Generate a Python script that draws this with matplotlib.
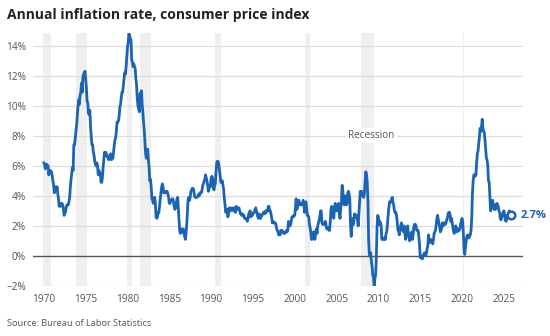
import matplotlib.pyplot as plt
import numpy as np

# CPI-U, 12-month percent change, monthly from Jan 1970
cpi_1970s = [6.2, 6.1, 5.8, 6.1, 6.1, 6.0, 6.0, 5.4, 5.6, 5.7, 5.6, 5.6,
             5.3, 5.0, 4.7, 4.2, 4.4, 4.6, 4.4, 4.6, 4.1, 3.8, 3.3, 3.3,
             3.3, 3.5, 3.5, 3.4, 3.2, 2.7, 2.9, 2.9, 3.2, 3.4, 3.4, 3.4,
             3.6, 3.9, 4.6, 5.1, 5.5, 5.9, 5.7, 7.4, 7.4, 7.8, 8.3, 8.7,
             9.4, 10.0, 10.4, 10.1, 10.7, 10.9, 11.5, 10.9, 11.9, 12.1, 12.2, 12.3,
             11.8, 11.2, 10.3, 10.2, 9.5, 9.4, 9.7, 8.6, 7.9, 7.4, 7.4, 6.9,
             6.7, 6.3, 6.1, 6.0, 6.2, 6.0, 5.4, 5.7, 5.5, 5.5, 4.9, 4.9,
             5.2, 5.9, 6.4, 6.9, 6.7, 6.9, 6.7, 6.6, 6.6, 6.4, 6.7, 6.7,
             6.8, 6.4, 6.6, 6.5, 6.9, 7.4, 7.7, 7.9, 8.3, 8.9, 8.9, 9.0,
             9.3, 9.9, 10.1, 10.5, 10.9, 10.9, 11.3, 11.8, 12.2, 12.1, 12.6, 13.3]
cpi_1980s = [13.9, 14.2, 14.8, 14.7, 14.4, 14.4, 13.1, 12.9, 12.6, 12.8, 12.6, 12.5,
             11.8, 11.4, 10.5, 10.0, 9.8, 9.6, 10.8, 10.8, 11.0, 10.1, 9.6, 8.9,
             8.4, 7.6, 6.8, 6.5, 6.7, 7.1, 6.4, 5.9, 5.0, 5.1, 4.6, 3.8,
             3.7, 3.5, 3.6, 3.9, 3.5, 2.6, 2.5, 2.6, 2.9, 2.9, 3.3, 3.8,
             4.2, 4.6, 4.8, 4.6, 4.2, 4.2, 4.2, 4.3, 4.3, 4.3, 4.1, 3.9,
             3.5, 3.5, 3.7, 3.7, 3.8, 3.8, 3.6, 3.3, 3.1, 3.2, 3.5, 3.8,
             3.9, 3.1, 2.2, 1.6, 1.5, 1.8, 1.6, 1.6, 1.8, 1.5, 1.3, 1.1,
             1.5, 2.1, 3.0, 3.8, 3.9, 3.7, 3.9, 4.3, 4.4, 4.5, 4.5, 4.4,
             4.0, 3.9, 3.9, 3.9, 3.9, 4.0, 4.1, 4.0, 4.2, 4.2, 4.2, 4.4,
             4.7, 4.8, 5.0, 5.1, 5.4, 5.2, 5.0, 4.7, 4.3, 4.5, 4.7, 4.6]
cpi_1990s = [5.2, 5.3, 5.2, 4.7, 4.4, 4.7, 4.8, 5.6, 6.2, 6.3, 6.3, 6.1,
             5.7, 5.3, 4.9, 4.9, 5.0, 4.7, 4.4, 3.8, 3.4, 2.9, 3.0, 3.1,
             2.6, 2.8, 3.2, 3.2, 3.0, 3.1, 3.2, 3.1, 3.0, 3.2, 3.0, 2.9,
             3.3, 3.2, 3.1, 3.2, 3.2, 3.0, 2.8, 2.8, 2.7, 2.8, 2.7, 2.7,
             2.5, 2.5, 2.5, 2.4, 2.3, 2.5, 2.8, 2.9, 3.0, 2.6, 2.7, 2.7,
             2.8, 2.9, 2.9, 3.1, 3.2, 3.0, 2.8, 2.6, 2.5, 2.8, 2.6, 2.5,
             2.7, 2.7, 2.8, 2.9, 2.9, 2.8, 3.0, 2.9, 3.0, 3.0, 3.3, 3.3,
             3.0, 3.0, 2.8, 2.5, 2.2, 2.3, 2.2, 2.2, 2.2, 2.1, 1.8, 1.7,
             1.6, 1.4, 1.4, 1.4, 1.7, 1.7, 1.7, 1.6, 1.5, 1.5, 1.5, 1.6,
             1.7, 1.6, 1.7, 2.3, 2.1, 2.0, 2.1, 2.3, 2.6, 2.6, 2.6, 2.7]
cpi_2000s = [2.7, 3.2, 3.8, 3.1, 3.2, 3.7, 3.7, 3.4, 3.5, 3.4, 3.4, 3.4,
             3.7, 3.5, 2.9, 3.3, 3.6, 3.2, 2.7, 2.7, 2.6, 2.1, 1.9, 1.6,
             1.1, 1.1, 1.5, 1.6, 1.2, 1.1, 1.5, 1.8, 1.5, 2.0, 2.2, 2.4,
             2.6, 3.0, 3.0, 2.2, 2.1, 2.1, 2.1, 2.2, 2.3, 2.0, 1.8, 1.9,
             1.9, 1.7, 1.7, 2.3, 3.1, 3.3, 3.0, 2.7, 2.5, 3.2, 3.5, 3.3,
             3.0, 3.0, 3.1, 3.5, 2.8, 2.5, 3.2, 3.6, 4.7, 4.3, 3.5, 3.4,
             4.0, 3.6, 3.4, 3.5, 4.2, 4.3, 4.1, 3.8, 2.1, 1.3, 2.0, 2.5,
             2.1, 2.4, 2.8, 2.6, 2.7, 2.7, 2.4, 2.0, 2.8, 3.5, 4.3, 4.1,
             4.3, 4.0, 4.0, 3.9, 4.2, 5.0, 5.6, 5.4, 4.9, 3.7, 1.1, 0.1,
             0.0, 0.2, -0.4, -0.7, -1.3, -1.4, -2.1, -1.5, -1.3, -0.2, 1.8, 2.7]
cpi_2010s = [2.6, 2.1, 2.3, 2.2, 2.0, 1.1, 1.2, 1.1, 1.1, 1.2, 1.1, 1.5,
             1.6, 2.1, 2.7, 3.2, 3.6, 3.6, 3.6, 3.8, 3.9, 3.5, 3.4, 3.0,
             2.9, 2.9, 2.7, 2.3, 1.7, 1.7, 1.4, 1.7, 2.0, 2.2, 1.8, 1.7,
             1.6, 2.0, 1.5, 1.1, 1.4, 1.8, 2.0, 1.5, 1.2, 1.0, 1.2, 1.5,
             1.6, 1.1, 1.5, 2.0, 2.1, 2.1, 2.0, 1.7, 1.7, 1.7, 1.3, 0.8,
             -0.1, 0.0, -0.1, -0.2, 0.0, 0.1, 0.2, 0.2, 0.0, 0.2, 0.5, 0.7,
             1.4, 1.0, 0.9, 1.1, 1.0, 1.0, 0.8, 1.1, 1.5, 1.6, 1.7, 2.1,
             2.5, 2.7, 2.4, 2.2, 1.9, 1.6, 1.7, 1.9, 2.2, 2.0, 2.2, 2.1,
             2.1, 2.2, 2.4, 2.5, 2.8, 2.9, 2.9, 2.7, 2.3, 2.5, 2.2, 1.9,
             1.6, 1.5, 1.9, 2.0, 1.8, 1.6, 1.8, 1.7, 1.7, 1.8, 2.1, 2.3]
cpi_2020s = [2.5, 2.3, 1.5, 0.3, 0.1, 0.6, 1.0, 1.3, 1.4, 1.2, 1.2, 1.4,
             1.4, 1.7, 2.6, 4.2, 5.0, 5.4, 5.4, 5.3, 5.4, 6.2, 6.8, 7.0,
             7.5, 7.9, 8.5, 8.3, 8.6, 9.1, 8.5, 8.3, 8.2, 7.7, 7.1, 6.5,
             6.4, 6.0, 5.0, 4.9, 4.0, 3.0, 3.2, 3.7, 3.7, 3.2, 3.1, 3.4,
             3.1, 3.2, 3.5, 3.4, 3.3, 3.0, 2.9, 2.5, 2.4, 2.6, 2.7, 2.9,
             3.0, 2.8, 2.4, 2.3, 2.4, 2.7, 2.7, 2.9, 3.0, 2.8, 2.7]

rec_start = [1969.92, 1973.83, 1980.0, 1981.5, 1990.5, 2001.17, 2007.92, 2020.08]
rec_end = [1970.83, 1975.17, 1980.5, 1982.83, 1991.17, 2001.83, 2009.42, 2020.25]

year_ticks = [1970, 1975, 1980, 1985, 1990, 1995, 2000, 2005, 2010, 2015, 2020, 2025]
pct_ticks = [-2, 0, 2, 4, 6, 8, 10, 12, 14]

rate = np.array(cpi_1970s + cpi_1980s + cpi_1990s + cpi_2000s + cpi_2010s + cpi_2020s)
t = 1970 + np.arange(len(rate)) / 12.0

plt.rcParams['font.family'] = ['Open Sans', 'DejaVu Sans']
blue = '#1b63b3'
grey = '#555555'

fig = plt.figure(figsize=(5.5, 3.36), dpi=100)
ax = fig.add_axes([0.06, 0.149, 0.891, 0.753])

for s, e in zip(rec_start, rec_end):
    ax.axvspan(s, e, color='#efefef', lw=0, zorder=0)

for v in pct_ticks:
    if v == 0:
        ax.axhline(v, color='#555555', lw=1, zorder=1)
    else:
        ax.axhline(v, color='#dddddd', lw=0.9, zorder=1)

ax.plot(t, rate, color=blue, lw=2.0, zorder=3, solid_joinstyle='round')
ax.plot(t[-1], rate[-1], 'o', ms=5.5, mfc='white', mec=blue, mew=1.8, zorder=4)
ax.text(t[-1] + 1.2, rate[-1], '%.1f%%' % rate[-1], color=blue, fontsize=8,
        fontweight='bold', va='center', ha='left')

ax.text(2009.2, 8, 'Recession', color=grey, fontsize=7.2, ha='center', va='center',
        bbox=dict(facecolor='white', edgecolor='none', pad=1.5), zorder=2)

ax.set_xlim(1968.7, 2027.3)
ax.set_ylim(-2, 14.85)
ax.set_xticks(year_ticks)
ax.set_xticklabels([str(y) for y in year_ticks])
ax.set_yticks(pct_ticks)
ax.set_yticklabels([('\u22122%' if v < 0 else '%d%%' % v) for v in pct_ticks])
ax.tick_params(length=0, labelsize=7.3, labelcolor=grey)
ax.tick_params(axis='y', pad=5)
ax.tick_params(axis='x', pad=6)
for sp in ax.spines.values():
    sp.set_visible(False)

fig.text(0.013, 0.955, 'Annual inflation rate, consumer price index', fontsize=10,
         fontweight='bold', color='#222222', va='center', ha='left')
fig.text(0.013, 0.038, 'Source: Bureau of Labor Statistics', fontsize=6.7,
         color=grey, va='center', ha='left')

fig.savefig('out.png', dpi=100)
